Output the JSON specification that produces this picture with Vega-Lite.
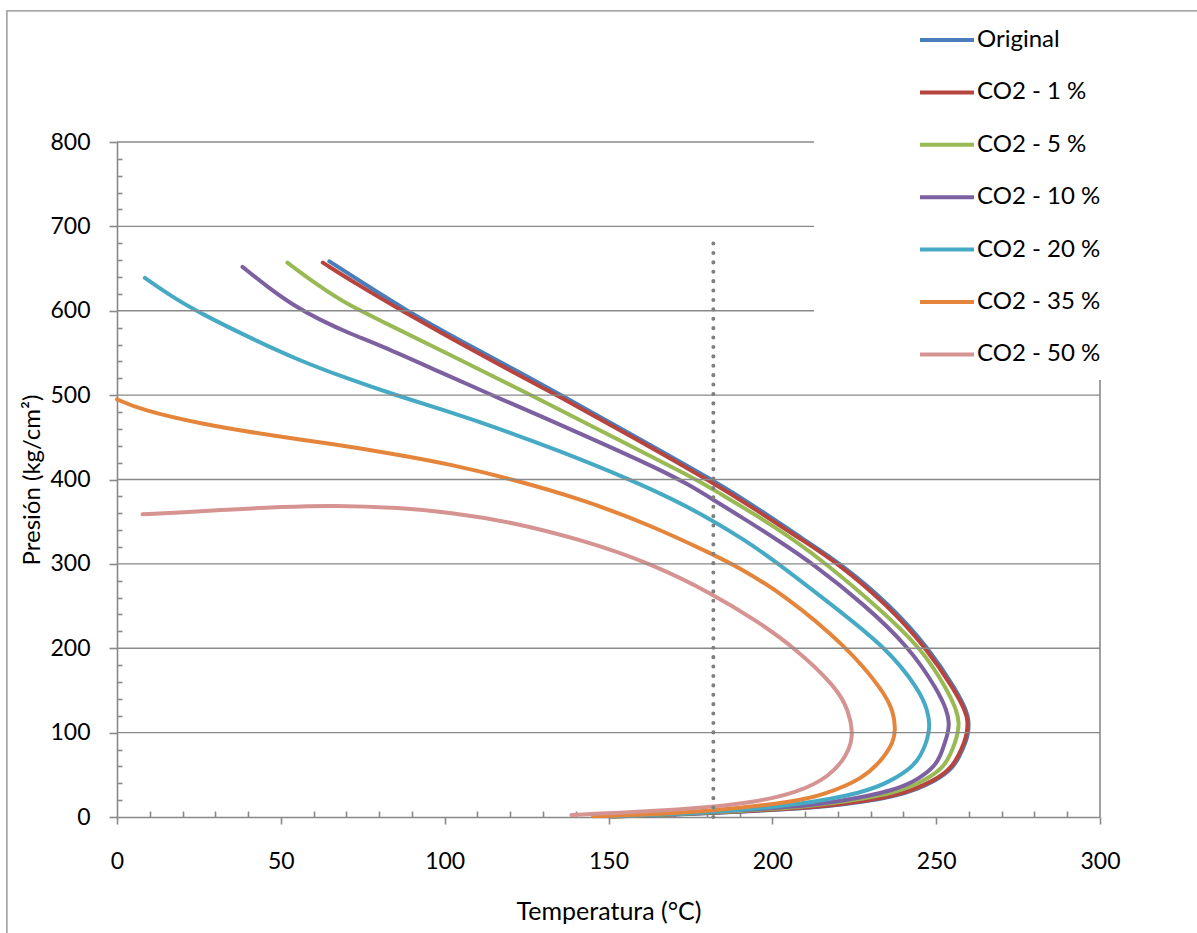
{
  "$schema": "https://vega.github.io/schema/vega-lite/v6.json",
  "width": 983,
  "height": 675,
  "autosize": {"type": "none"},
  "padding": {"left": 117, "top": 142, "right": 97, "bottom": 116},
  "background": "white",
  "config": {"font": "Lato", "view": {"stroke": null}},
  "datasets": {
    "curves": [
      {"s":"Original","i":1,"T":64.8,"P":658.6},{"s":"Original","i":2,"T":75,"P":633},{"s":"Original","i":3,"T":88,"P":601},{"s":"Original","i":4,"T":105,"P":564},{"s":"Original","i":5,"T":121.5,"P":530},{"s":"Original","i":6,"T":135.5,"P":500},{"s":"Original","i":7,"T":159,"P":449},{"s":"Original","i":8,"T":182.7,"P":397.5},{"s":"Original","i":9,"T":196.3,"P":364},{"s":"Original","i":10,"T":209.5,"P":329},{"s":"Original","i":11,"T":221,"P":300},{"s":"Original","i":12,"T":235.8,"P":252},{"s":"Original","i":13,"T":247.7,"P":200.5},{"s":"Original","i":14,"T":256.2,"P":150},{"s":"Original","i":15,"T":259.4,"P":125},{"s":"Original","i":16,"T":260,"P":113},{"s":"Original","i":17,"T":259.8,"P":100},{"s":"Original","i":18,"T":259.1,"P":89},{"s":"Original","i":19,"T":257,"P":71},{"s":"Original","i":20,"T":255.2,"P":59},{"s":"Original","i":21,"T":250.7,"P":44},{"s":"Original","i":22,"T":238.5,"P":23.3},{"s":"Original","i":23,"T":218,"P":13},{"s":"Original","i":24,"T":207.4,"P":9.6},{"s":"Original","i":25,"T":182,"P":4.6},{"s":"Original","i":26,"T":165,"P":2},{"s":"Original","i":27,"T":151,"P":0.5},
      {"s":"CO2 - 1 %","i":1,"T":62.8,"P":657},{"s":"CO2 - 1 %","i":2,"T":73,"P":632},{"s":"CO2 - 1 %","i":3,"T":86.5,"P":601},{"s":"CO2 - 1 %","i":4,"T":104,"P":563},{"s":"CO2 - 1 %","i":5,"T":120,"P":529},{"s":"CO2 - 1 %","i":6,"T":134.3,"P":500},{"s":"CO2 - 1 %","i":7,"T":158,"P":449},{"s":"CO2 - 1 %","i":8,"T":182,"P":396},{"s":"CO2 - 1 %","i":9,"T":195.5,"P":363},{"s":"CO2 - 1 %","i":10,"T":208.8,"P":329},{"s":"CO2 - 1 %","i":11,"T":220.3,"P":300},{"s":"CO2 - 1 %","i":12,"T":234.9,"P":252},{"s":"CO2 - 1 %","i":13,"T":247,"P":200.5},{"s":"CO2 - 1 %","i":14,"T":255.7,"P":150},{"s":"CO2 - 1 %","i":15,"T":259,"P":125},{"s":"CO2 - 1 %","i":16,"T":259.7,"P":113},{"s":"CO2 - 1 %","i":17,"T":259.4,"P":100},{"s":"CO2 - 1 %","i":18,"T":258.7,"P":89},{"s":"CO2 - 1 %","i":19,"T":256.6,"P":71},{"s":"CO2 - 1 %","i":20,"T":254.7,"P":59},{"s":"CO2 - 1 %","i":21,"T":250.2,"P":44},{"s":"CO2 - 1 %","i":22,"T":237.9,"P":23.7},{"s":"CO2 - 1 %","i":23,"T":217.6,"P":13.5},{"s":"CO2 - 1 %","i":24,"T":207.4,"P":10},{"s":"CO2 - 1 %","i":25,"T":182,"P":5},{"s":"CO2 - 1 %","i":26,"T":165,"P":2.2},{"s":"CO2 - 1 %","i":27,"T":151,"P":0.6},
      {"s":"CO2 - 5 %","i":1,"T":52,"P":657},{"s":"CO2 - 5 %","i":2,"T":61,"P":631},{"s":"CO2 - 5 %","i":3,"T":70,"P":608},{"s":"CO2 - 5 %","i":4,"T":80.6,"P":588},{"s":"CO2 - 5 %","i":5,"T":104,"P":543},{"s":"CO2 - 5 %","i":6,"T":126.5,"P":500},{"s":"CO2 - 5 %","i":7,"T":151,"P":451},{"s":"CO2 - 5 %","i":8,"T":176.9,"P":400},{"s":"CO2 - 5 %","i":9,"T":182,"P":388},{"s":"CO2 - 5 %","i":10,"T":195,"P":358},{"s":"CO2 - 5 %","i":11,"T":206.4,"P":329},{"s":"CO2 - 5 %","i":12,"T":216.5,"P":300},{"s":"CO2 - 5 %","i":13,"T":231.5,"P":251},{"s":"CO2 - 5 %","i":14,"T":245.5,"P":200.5},{"s":"CO2 - 5 %","i":15,"T":253.5,"P":150},{"s":"CO2 - 5 %","i":16,"T":256.4,"P":125},{"s":"CO2 - 5 %","i":17,"T":257,"P":111},{"s":"CO2 - 5 %","i":18,"T":256.6,"P":100},{"s":"CO2 - 5 %","i":19,"T":255.8,"P":88},{"s":"CO2 - 5 %","i":20,"T":254.4,"P":75},{"s":"CO2 - 5 %","i":21,"T":252.5,"P":60},{"s":"CO2 - 5 %","i":22,"T":247.5,"P":45},{"s":"CO2 - 5 %","i":23,"T":237.9,"P":27.7},{"s":"CO2 - 5 %","i":24,"T":218,"P":16},{"s":"CO2 - 5 %","i":25,"T":207.4,"P":11},{"s":"CO2 - 5 %","i":26,"T":182,"P":5.5},{"s":"CO2 - 5 %","i":27,"T":165,"P":2.5},{"s":"CO2 - 5 %","i":28,"T":151,"P":0.6},
      {"s":"CO2 - 10 %","i":1,"T":38.3,"P":652},{"s":"CO2 - 10 %","i":2,"T":46,"P":628},{"s":"CO2 - 10 %","i":3,"T":54,"P":606},{"s":"CO2 - 10 %","i":4,"T":62,"P":589},{"s":"CO2 - 10 %","i":5,"T":71,"P":573},{"s":"CO2 - 10 %","i":6,"T":80.3,"P":559},{"s":"CO2 - 10 %","i":7,"T":97,"P":530},{"s":"CO2 - 10 %","i":8,"T":113.8,"P":501},{"s":"CO2 - 10 %","i":9,"T":130,"P":474},{"s":"CO2 - 10 %","i":10,"T":148,"P":443},{"s":"CO2 - 10 %","i":11,"T":165,"P":413},{"s":"CO2 - 10 %","i":12,"T":174,"P":395},{"s":"CO2 - 10 %","i":13,"T":182,"P":376},{"s":"CO2 - 10 %","i":14,"T":192,"P":352},{"s":"CO2 - 10 %","i":15,"T":201.3,"P":329},{"s":"CO2 - 10 %","i":16,"T":212.5,"P":300},{"s":"CO2 - 10 %","i":17,"T":228,"P":252},{"s":"CO2 - 10 %","i":18,"T":242,"P":200.5},{"s":"CO2 - 10 %","i":19,"T":250.5,"P":150},{"s":"CO2 - 10 %","i":20,"T":253.4,"P":125},{"s":"CO2 - 10 %","i":21,"T":254,"P":111},{"s":"CO2 - 10 %","i":22,"T":253.6,"P":100},{"s":"CO2 - 10 %","i":23,"T":252.9,"P":91},{"s":"CO2 - 10 %","i":24,"T":251.3,"P":72},{"s":"CO2 - 10 %","i":25,"T":249.3,"P":59},{"s":"CO2 - 10 %","i":26,"T":245,"P":46},{"s":"CO2 - 10 %","i":27,"T":237.9,"P":31.6},{"s":"CO2 - 10 %","i":28,"T":220,"P":18},{"s":"CO2 - 10 %","i":29,"T":207.4,"P":12},{"s":"CO2 - 10 %","i":30,"T":182,"P":6},{"s":"CO2 - 10 %","i":31,"T":165,"P":3},{"s":"CO2 - 10 %","i":32,"T":150,"P":0.8},
      {"s":"CO2 - 20 %","i":1,"T":8.5,"P":639},{"s":"CO2 - 20 %","i":2,"T":17,"P":616},{"s":"CO2 - 20 %","i":3,"T":26,"P":596},{"s":"CO2 - 20 %","i":4,"T":40,"P":569},{"s":"CO2 - 20 %","i":5,"T":55,"P":542},{"s":"CO2 - 20 %","i":6,"T":70,"P":520},{"s":"CO2 - 20 %","i":7,"T":85,"P":500},{"s":"CO2 - 20 %","i":8,"T":100.8,"P":481},{"s":"CO2 - 20 %","i":9,"T":116.9,"P":460},{"s":"CO2 - 20 %","i":10,"T":135,"P":434},{"s":"CO2 - 20 %","i":11,"T":156.6,"P":400},{"s":"CO2 - 20 %","i":12,"T":170,"P":376},{"s":"CO2 - 20 %","i":13,"T":182,"P":351},{"s":"CO2 - 20 %","i":14,"T":191.2,"P":329},{"s":"CO2 - 20 %","i":15,"T":200.3,"P":305},{"s":"CO2 - 20 %","i":16,"T":217.6,"P":253},{"s":"CO2 - 20 %","i":17,"T":234.9,"P":200.5},{"s":"CO2 - 20 %","i":18,"T":245,"P":150},{"s":"CO2 - 20 %","i":19,"T":247.5,"P":125},{"s":"CO2 - 20 %","i":20,"T":248,"P":109},{"s":"CO2 - 20 %","i":21,"T":247.7,"P":100},{"s":"CO2 - 20 %","i":22,"T":247,"P":88},{"s":"CO2 - 20 %","i":23,"T":245.3,"P":73},{"s":"CO2 - 20 %","i":24,"T":243,"P":60},{"s":"CO2 - 20 %","i":25,"T":236.5,"P":43},{"s":"CO2 - 20 %","i":26,"T":227.8,"P":28.5},{"s":"CO2 - 20 %","i":27,"T":207.4,"P":14},{"s":"CO2 - 20 %","i":28,"T":182,"P":5.5},{"s":"CO2 - 20 %","i":29,"T":165,"P":2.8},{"s":"CO2 - 20 %","i":30,"T":148,"P":0.8},
      {"s":"CO2 - 35 %","i":1,"T":0,"P":495},{"s":"CO2 - 35 %","i":2,"T":7,"P":483},{"s":"CO2 - 35 %","i":3,"T":25.3,"P":466},{"s":"CO2 - 35 %","i":4,"T":45.7,"P":453},{"s":"CO2 - 35 %","i":5,"T":66,"P":442},{"s":"CO2 - 35 %","i":6,"T":86.4,"P":429},{"s":"CO2 - 35 %","i":7,"T":101.6,"P":418},{"s":"CO2 - 35 %","i":8,"T":120,"P":401},{"s":"CO2 - 35 %","i":9,"T":142.3,"P":376},{"s":"CO2 - 35 %","i":10,"T":162.7,"P":346},{"s":"CO2 - 35 %","i":11,"T":182,"P":311},{"s":"CO2 - 35 %","i":12,"T":190.1,"P":295},{"s":"CO2 - 35 %","i":13,"T":203.4,"P":264},{"s":"CO2 - 35 %","i":14,"T":222.7,"P":202},{"s":"CO2 - 35 %","i":15,"T":233.8,"P":150},{"s":"CO2 - 35 %","i":16,"T":237,"P":125},{"s":"CO2 - 35 %","i":17,"T":237.6,"P":103},{"s":"CO2 - 35 %","i":18,"T":236.9,"P":89},{"s":"CO2 - 35 %","i":19,"T":234.2,"P":71},{"s":"CO2 - 35 %","i":20,"T":227.8,"P":45},{"s":"CO2 - 35 %","i":21,"T":215,"P":25.5},{"s":"CO2 - 35 %","i":22,"T":207.4,"P":18.5},{"s":"CO2 - 35 %","i":23,"T":182,"P":7.3},{"s":"CO2 - 35 %","i":24,"T":165,"P":3.5},{"s":"CO2 - 35 %","i":25,"T":145.3,"P":0.8},
      {"s":"CO2 - 50 %","i":1,"T":7.8,"P":358.7},{"s":"CO2 - 50 %","i":2,"T":20,"P":361},{"s":"CO2 - 50 %","i":3,"T":35.5,"P":364.6},{"s":"CO2 - 50 %","i":4,"T":50,"P":367.5},{"s":"CO2 - 50 %","i":5,"T":66,"P":369.5},{"s":"CO2 - 50 %","i":6,"T":86.4,"P":366.5},{"s":"CO2 - 50 %","i":7,"T":101.6,"P":361},{"s":"CO2 - 50 %","i":8,"T":120,"P":350},{"s":"CO2 - 50 %","i":9,"T":142.3,"P":328},{"s":"CO2 - 50 %","i":10,"T":162.7,"P":301},{"s":"CO2 - 50 %","i":11,"T":182,"P":264},{"s":"CO2 - 50 %","i":12,"T":195,"P":233},{"s":"CO2 - 50 %","i":13,"T":206.4,"P":202},{"s":"CO2 - 50 %","i":14,"T":219.6,"P":154},{"s":"CO2 - 50 %","i":15,"T":223.4,"P":125},{"s":"CO2 - 50 %","i":16,"T":224.5,"P":100},{"s":"CO2 - 50 %","i":17,"T":224,"P":88},{"s":"CO2 - 50 %","i":18,"T":222.7,"P":73},{"s":"CO2 - 50 %","i":19,"T":217.6,"P":48},{"s":"CO2 - 50 %","i":20,"T":207.4,"P":28.5},{"s":"CO2 - 50 %","i":21,"T":195,"P":18},{"s":"CO2 - 50 %","i":22,"T":182,"P":12},{"s":"CO2 - 50 %","i":23,"T":160,"P":6},{"s":"CO2 - 50 %","i":24,"T":138.7,"P":2.4}
    ]
  },
  "layer": [
    {
      "data": {"name": "curves"},
      "mark": {"type": "line", "strokeWidth": 4, "interpolate": "basis", "strokeCap": "round", "strokeJoin": "round"},
      "encoding": {
        "x": {
          "field": "T", "type": "quantitative",
          "scale": {"domain": [0, 300], "nice": false, "zero": false},
          "axis": {
            "title": "Temperatura (°C)",
            "values": [0,10,20,30,40,50,60,70,80,90,100,110,120,130,140,150,160,170,180,190,200,210,220,230,240,250,260,270,280,290,300],
            "tickCount": 200,
            "labelExpr": "datum.value % 50 === 0 ? datum.label : ''",
            "tickSize": {"condition": {"test": "datum.value % 50 === 0", "value": 7}, "value": -6},
            "labelPadding": 26,
            "labelFont": "Lato", "labelFontSize": 23, "labelColor": "#000000",
            "labelFlush": false, "labelOverlap": false,
            "titleFont": "Lato", "titleFontSize": 25, "titleFontWeight": "normal", "titleColor": "#000000", "titlePadding": 26,
            "domainColor": "#898989", "domainWidth": 1.6, "tickColor": "#898989", "tickWidth": 1.6, "grid": false
          }
        },
        "y": {
          "field": "P", "type": "quantitative",
          "scale": {"domain": [0, 800], "nice": false, "zero": false},
          "axis": {
            "title": "Presión (kg/cm²)",
            "values": [0,20,40,60,80,100,120,140,160,180,200,220,240,260,280,300,320,340,360,380,400,420,440,460,480,500,520,540,560,580,600,620,640,660,680,700,720,740,760,780,800],
            "tickCount": 200,
            "labelExpr": "datum.value % 100 === 0 ? datum.label : ''",
            "tickSize": {"condition": {"test": "datum.value % 100 === 0", "value": 8}, "value": -5},
            "labelPadding": 19,
            "labelFont": "Lato", "labelFontSize": 23, "labelColor": "#000000",
            "labelFlush": false, "labelOverlap": false,
            "titleFont": "Lato", "titleFontSize": 24, "titleFontWeight": "normal", "titleColor": "#000000", "titlePadding": 5,
            "domainColor": "#898989", "domainWidth": 1.6, "tickColor": "#898989", "tickWidth": 1.6, "grid": false
          }
        },
        "order": {"field": "i", "type": "quantitative"},
        "color": {
          "field": "s", "type": "nominal",
          "scale": {
            "domain": ["Original", "CO2 - 1 %", "CO2 - 5 %", "CO2 - 10 %", "CO2 - 20 %", "CO2 - 35 %", "CO2 - 50 %"],
            "range": ["#4A7EBB", "#B8443F", "#98B954", "#7D60A0", "#46AAC5", "#E5853B", "#D59391"]
          },
          "legend": {
            "title": null, "orient": "none", "legendX": 801, "legendY": -131,
            "symbolType": "stroke", "symbolSize": 2916, "symbolStrokeWidth": 4,
            "labelFont": "Lato", "labelFontSize": 24, "labelColor": "#000000", "labelOffset": 1,
            "rowPadding": 11.4, "padding": 0, "labelLimit": 300
          }
        }
      }
    },
    {
      "data": {"values": [{"P": 100}, {"P": 200}, {"P": 300}, {"P": 400}, {"P": 500}]},
      "mark": {"type": "rule", "color": "#898989", "strokeWidth": 1.4},
      "encoding": {"y": {"field": "P", "type": "quantitative"}}
    },
    {
      "data": {"values": [{"P": 600}, {"P": 700}, {"P": 800}]},
      "mark": {"type": "rule", "color": "#898989", "strokeWidth": 1.4},
      "encoding": {
        "y": {"field": "P", "type": "quantitative"},
        "x": {"datum": 0, "type": "quantitative"},
        "x2": {"datum": 212.7}
      }
    },
    {
      "data": {"values": [{"edge": "right"}]},
      "mark": {"type": "rule", "color": "#898989", "strokeWidth": 1.6},
      "encoding": {
        "x": {"datum": 300, "type": "quantitative"},
        "y": {"datum": 0, "type": "quantitative"},
        "y2": {"datum": 518}
      }
    },
    {
      "data": {"values": [{"edge": "frame"}]},
      "mark": {"type": "rect", "fill": null, "stroke": "#8C8C8C", "strokeWidth": 1.3, "clip": false},
      "encoding": {
        "x": {"datum": -33.6, "type": "quantitative"},
        "x2": {"datum": 360},
        "y": {"datum": 955.3, "type": "quantitative"},
        "y2": {"datum": -200}
      }
    },
    {
      "data": {"values": [{"T": 182, "Plo": 0, "Phi": 680}]},
      "mark": {"type": "rule", "color": "#7F7F7F", "strokeWidth": 4, "strokeDash": [0.1, 9.3], "strokeCap": "round"},
      "encoding": {
        "x": {"field": "T", "type": "quantitative"},
        "y": {"field": "Plo", "type": "quantitative"},
        "y2": {"field": "Phi"}
      }
    }
  ]
}
